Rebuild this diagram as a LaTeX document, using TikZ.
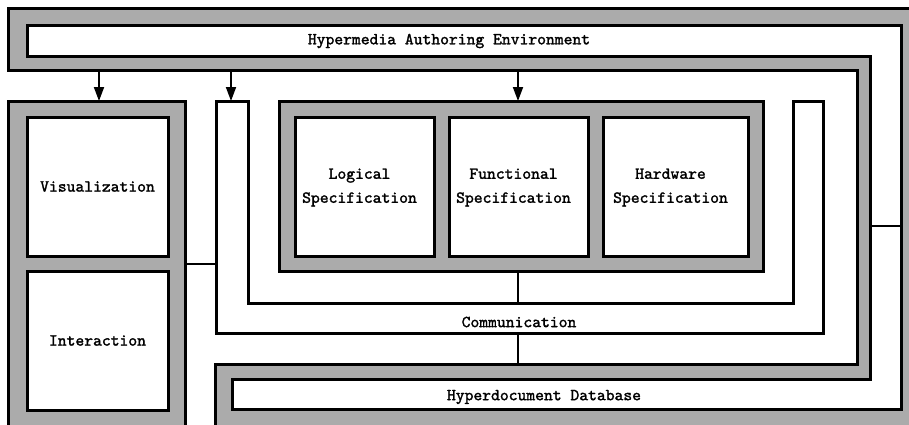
\documentclass[tikz,border=0pt]{standalone}
\usepackage{fontspec}
\newfontfamily\courf{lmmono10-regular.otf}[FakeBold=1.6]
\usetikzlibrary{arrows.meta}
\begin{document}
\begin{tikzpicture}[x=1pt,y=-1pt,
  halftone/.style={fill=black!33, draw=black, line width=3pt},
  bandline/.style={fill=white, draw=black, line width=3pt},
  txt/.style={font=\fontsize{16.8}{24}\selectfont\courf, align=center},
  wbox/.style={txt, fill=white, draw=black, line width=3pt, inner sep=0pt, outer sep=0pt, anchor=north west},
  sbox/.style={halftone, inner sep=0pt, outer sep=0pt, anchor=north west},
  lbl/.style={txt, inner sep=0pt},
  conn/.style={line width=1.8pt},
  arr/.style={line width=1.8pt, -{Triangle[length=14pt,width=10pt]}},
]
\useasboundingbox (0,0) rectangle (909,424);
\clip (0,0) rectangle (909,424);
\fill[white] (0,0) rectangle (909,424);

% outer frame: Hypermedia Authoring Environment + Hyperdocument Database
\draw[halftone] (8,8) -- (930,8) -- (930,440) -- (215,440) -- (215,364) -- (857,364) -- (857,70) -- (8,70) -- cycle;
\draw[bandline] (27,25) -- (901,25) -- (901,409) -- (232,409) -- (232,379) -- (870,379) -- (870,56) -- (27,56) -- cycle;
\coordinate (sepL) at (870,226);
\coordinate (sepR) at (901,226);
\draw[line width=2.2pt] (sepL) -- (sepR);
\node[lbl] (hae) at (449,41) {Hypermedia Authoring Environment};
\node[lbl] (hdb) at (544,397) {Hyperdocument Database};

% visualization / interaction group
\node[sbox, minimum width=177, minimum height=340] (visgrp) at (8,101) {};
\node[wbox, minimum width=141, minimum height=139] (vis) at (27,117) {Visualization};
\node[wbox, minimum width=141, minimum height=139] (inter) at (27,271) {Interaction};

% communication
\draw[bandline] (216,101) -- (216,333) -- (823,333) -- (823,101) -- (793,101) -- (793,303) -- (248,303) -- (248,101) -- cycle;
\node[lbl] (comm) at (519,322) {Communication};

% specification group
\node[sbox, minimum width=484, minimum height=170] (specgrp) at (279,101) {};
\node[wbox, minimum width=139, minimum height=139] (logic) at (295,117) {};
\node[wbox, minimum width=139, minimum height=139] (func) at (449,117) {};
\node[wbox, minimum width=145, minimum height=139] (hard) at (603,117) {};
\node[lbl] (logict) at ([xshift=-5,yshift=-1]logic.center) {Logical\\Specification};
\node[lbl] (funct) at ([xshift=-5,yshift=-1]func.center) {Functional\\Specification};
\node[lbl] (hardt) at ([xshift=-5,yshift=-1]hard.center) {Hardware\\Specification};

% connectors
\coordinate (s1) at (99,70);
\coordinate (s2) at (231,70);
\coordinate (s3) at (518,70);
\coordinate (t2) at (231,101);
\draw[arr] (s1) -- (s1 |- visgrp.north);
\draw[arr] (s2) -- (t2);
\draw[arr] (s3) -- (s3 |- specgrp.north);
\coordinate (c1) at (216,264);
\draw[conn] (c1 -| visgrp.east) -- (c1);
\coordinate (c2) at (518,303);
\draw[conn] (c2 |- specgrp.south) -- (c2);
\coordinate (c3) at (518,333);
\coordinate (c4) at (518,364);
\draw[conn] (c3) -- (c4);
\end{tikzpicture}
\end{document}
